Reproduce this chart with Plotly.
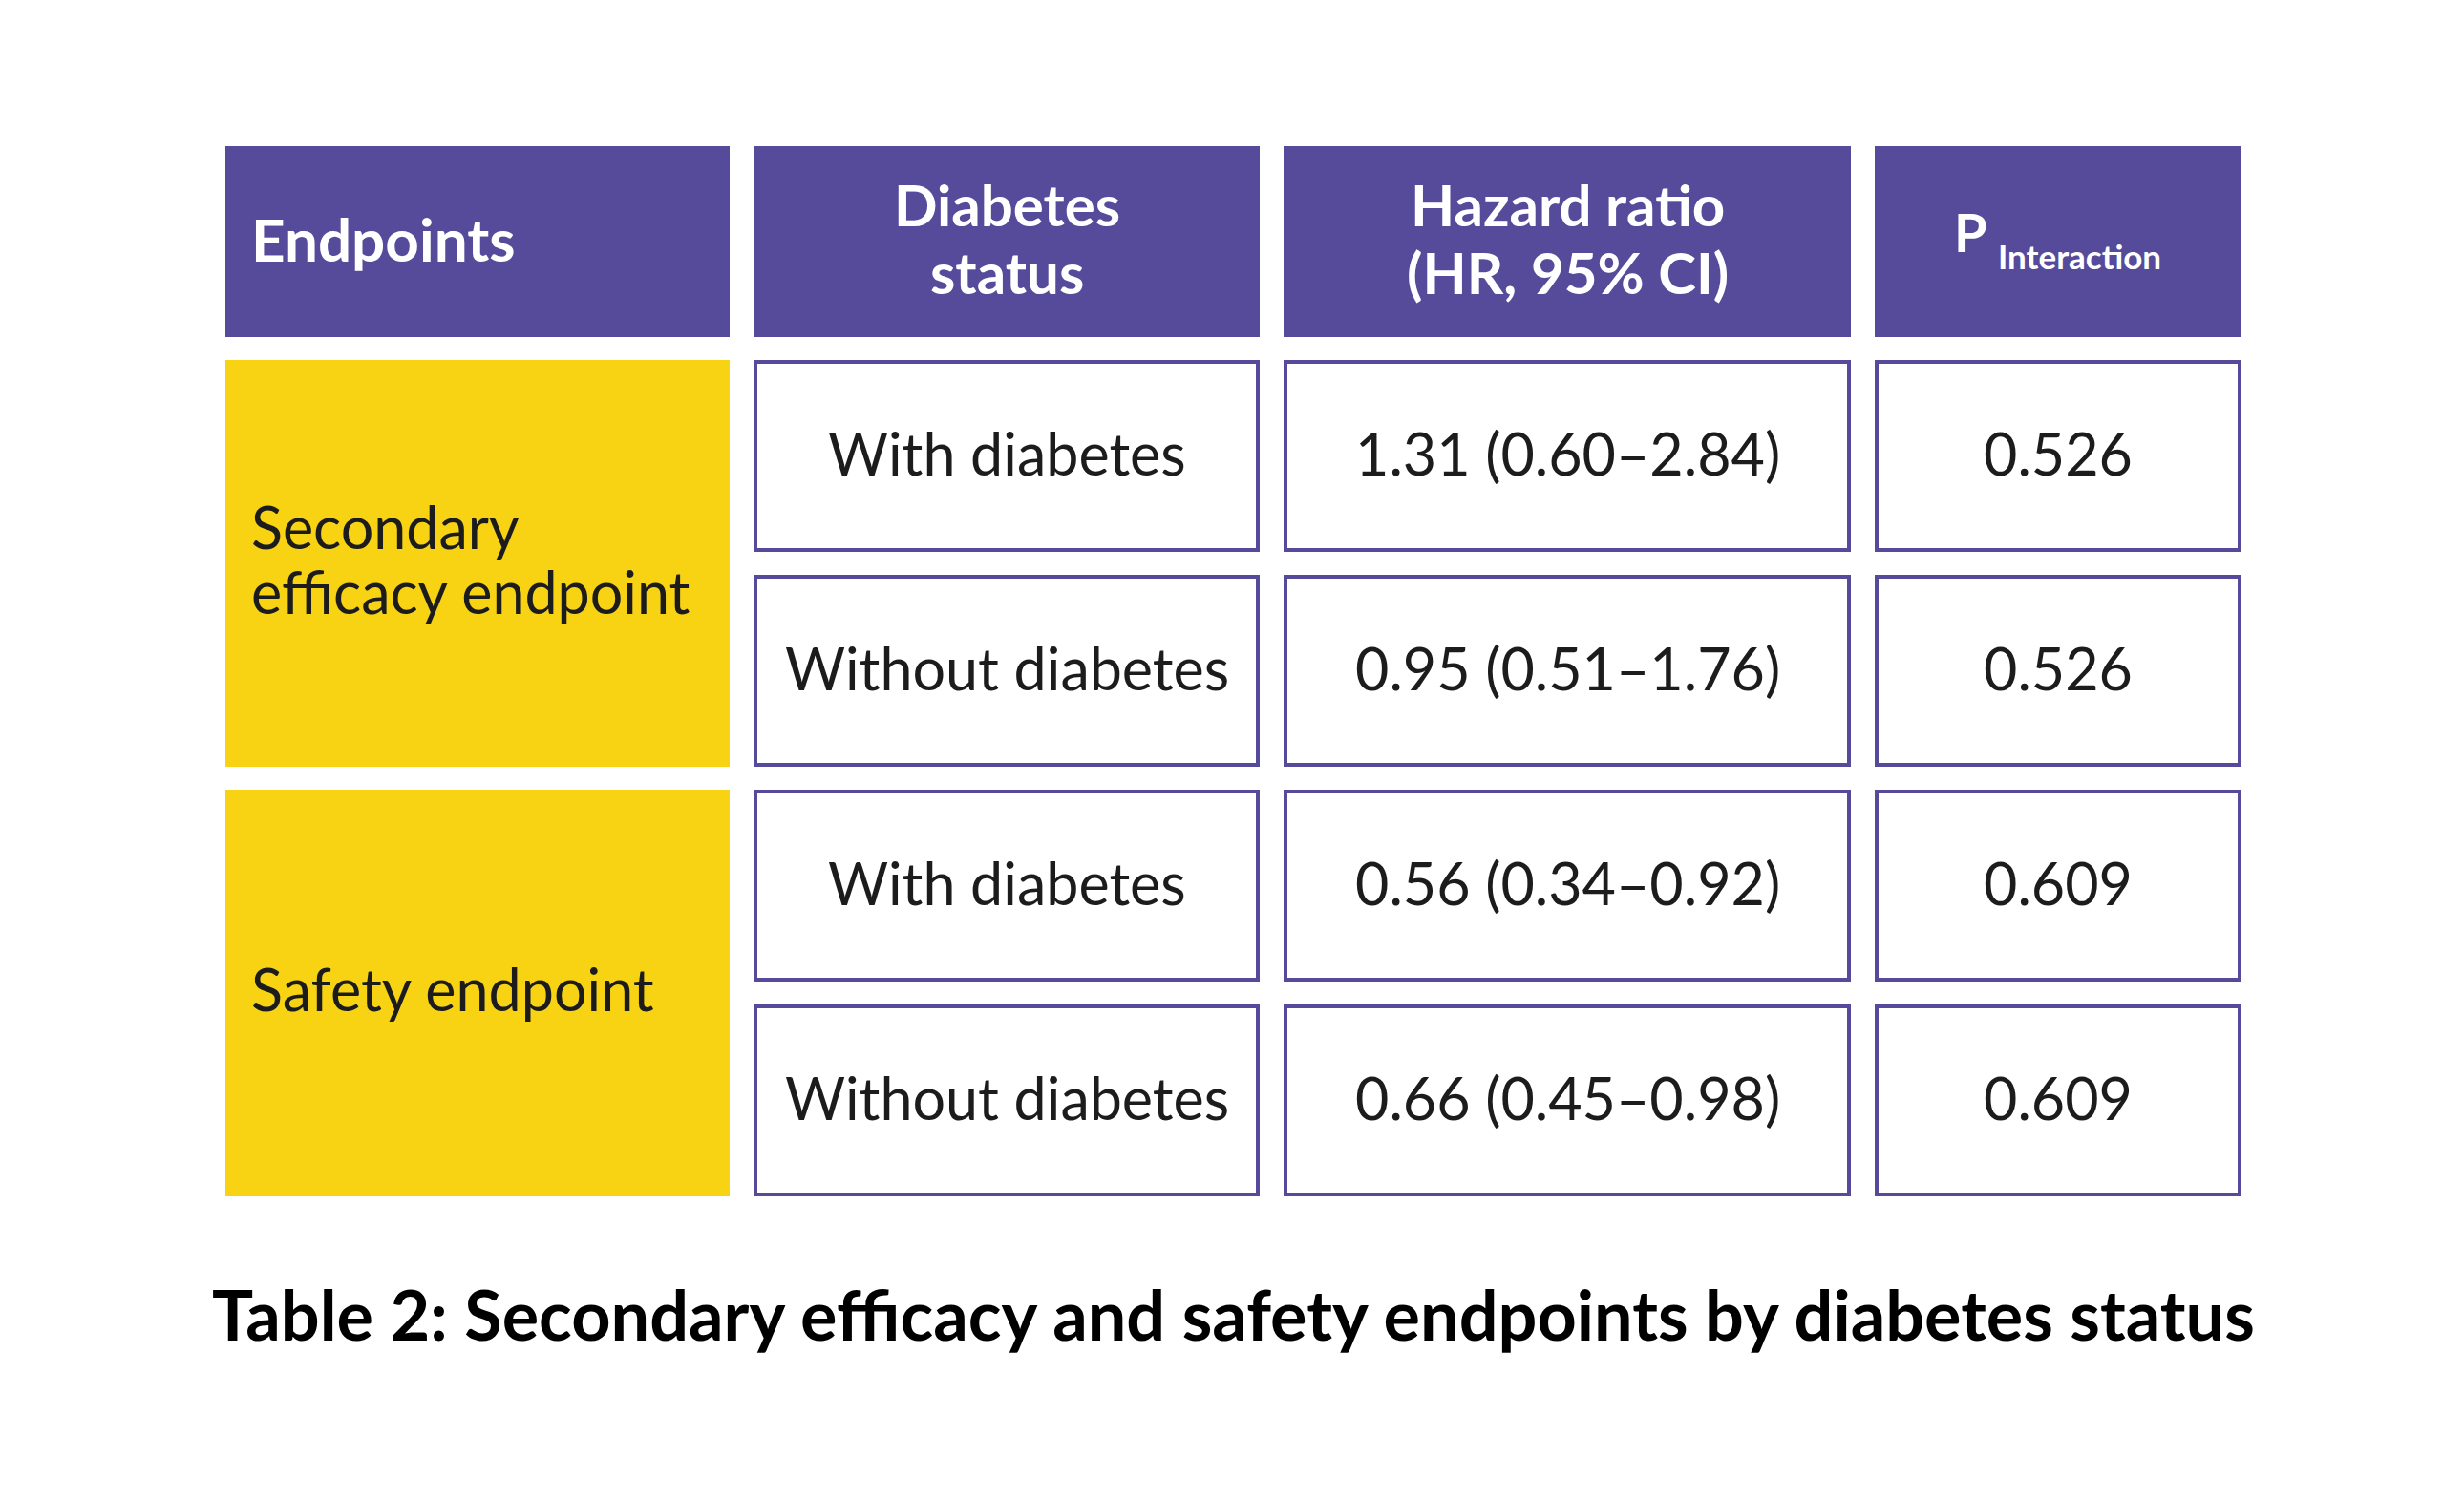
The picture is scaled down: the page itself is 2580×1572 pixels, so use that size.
import plotly.graph_objects as go

# table content
headers = ["Endpoints", "Diabetes<br>status", "Hazard ratio<br>(HR, 95% CI)", "P"]
header_sub = "Interaction"
endpoints = ["Secondary<br>efficacy endpoint", "Safety endpoint"]
status = ["With diabetes", "Without diabetes", "With diabetes", "Without diabetes"]
hr = [1.31, 0.95, 0.56, 0.66]
ci_low = [0.60, 0.51, 0.34, 0.45]
ci_high = [2.84, 1.76, 0.92, 0.98]
p_interaction = [0.526, 0.526, 0.609, 0.609]
title = "Table 2: Secondary efficacy and safety endpoints by diabetes status"

# layout geometry (screen pixels of the 2580x1572 window, page body has an 8px margin)
W, H = 2580, 1572
PAD = 8
x0 = 236
col_w = [528, 530, 594, 384]
col_gap = 25
y0 = 153
head_h = 200
row_h = 201
row_gap = 24

purple = "#564A9A"
yellow = "#F8D314"
ink = "#1C1C1C"
font = "Lato"

lefts = []
x = x0
for w in col_w:
    lefts.append(x)
    x += w + col_gap
rights = [l + w for l, w in zip(lefts, col_w)]
centers = [(l + r) / 2 for l, r in zip(lefts, rights)]

row_tops = [y0 + head_h + row_gap + i * (row_h + row_gap) for i in range(len(status))]
row_bots = [t + row_h for t in row_tops]

shapes = []
annotations = []


def add_text(x, y, text, size, color, bold=False, anchor="center", pitch=None):
    # place each line on its own so the line spacing can be set
    lines = text.split("<br>")
    pitch = pitch or size * 1.2
    start = y - pitch * (len(lines) - 1) / 2
    for i, ln in enumerate(lines):
        annotations.append(dict(x=x, y=start + i * pitch, text="<b>%s</b>" % ln if bold else ln,
                                xanchor=anchor, font=dict(size=size, color=color, family=font)))


# header row
for i, h in enumerate(headers):
    shapes.append(dict(type="rect", xref="x", yref="y", x0=lefts[i], x1=rights[i],
                       y0=y0, y1=y0 + head_h, fillcolor=purple, line=dict(width=0), layer="below"))
yc = y0 + head_h / 2
add_text(lefts[0] + 26, yc - 3, headers[0], 62, "white", bold=True, anchor="left")
for i in (1, 2):
    add_text(centers[i], yc - 4, headers[i], 60, "white", bold=True, pitch=71)
add_text(lefts[3] + 82, yc - 11, headers[3], 56, "white", bold=True, anchor="left")
add_text(lefts[3] + 128, yc + 15, header_sub, 35, "white", bold=True, anchor="left")

# endpoint cells (each spans two rows)
for k, ep in enumerate(endpoints):
    top = row_tops[2 * k]
    bot = row_bots[2 * k + 1]
    shapes.append(dict(type="rect", xref="x", yref="y", x0=lefts[0], x1=rights[0],
                       y0=top, y1=bot, fillcolor=yellow, line=dict(width=0), layer="below"))
    add_text(lefts[0] + 26, (top + bot) / 2 - 5, ep, 61, ink, anchor="left", pitch=68)

# body cells
for r in range(len(status)):
    texts = [status[r],
             "%.2f (%.2f\u2013%.2f)" % (hr[r], ci_low[r], ci_high[r]),
             "%.3f" % p_interaction[r]]
    for c, t in zip((1, 2, 3), texts):
        shapes.append(dict(type="rect", xref="x", yref="y", x0=lefts[c] + 2, x1=rights[c] - 2,
                           y0=row_tops[r] + 2, y1=row_bots[r] - 2, fillcolor="white",
                           line=dict(color=purple, width=4), layer="below"))
        add_text(centers[c], (row_tops[r] + row_bots[r]) / 2 - 3, t, 61, ink)

# caption
add_text(1291, 1376, title, 72, "black", bold=True)

for a in annotations:
    a.update(xref="x", yref="y", showarrow=False, yanchor="middle", borderpad=0)

fig = go.Figure()
fig.add_trace(go.Scatter(x=[PAD, W - PAD], y=[PAD, H - PAD], mode="markers", marker=dict(opacity=0),
                         hoverinfo="skip", showlegend=False))
fig.update_layout(
    width=W - 2 * PAD, height=H - 2 * PAD,
    margin=dict(l=0, r=0, t=0, b=0),
    paper_bgcolor="white", plot_bgcolor="white",
    xaxis=dict(range=[PAD, W - PAD], visible=False, fixedrange=True),
    yaxis=dict(range=[H - PAD, PAD], visible=False, fixedrange=True),
    shapes=shapes,
    annotations=annotations,
)

fig.write_html("out.html")
